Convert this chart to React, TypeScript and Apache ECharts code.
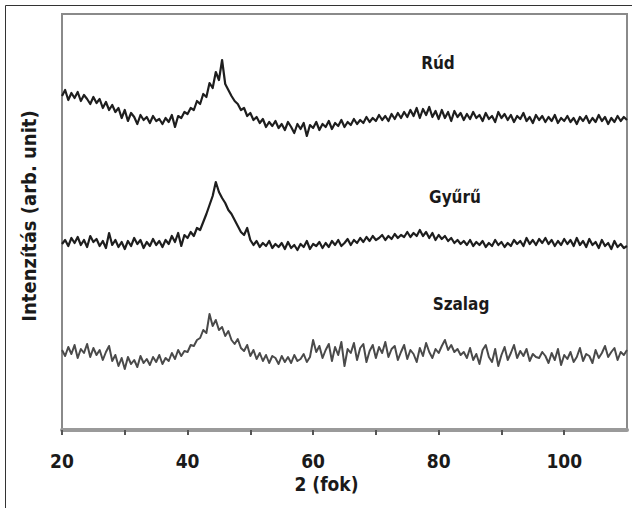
import React, { useEffect, useRef } from "react";
import * as echarts from "echarts";

// 2θ sampling of the diffractograms (degrees)
const THETA_START = 20;
const THETA_STEP = 0.5;
const X_TICKS = [20, 40, 60, 80, 100];

// Intensities (arb. unit), one value per 0.5°
const rud = [
  334, 340, 330, 337, 332, 338, 329, 335, 331, 326, // 20-24.5
  333, 327, 331, 322, 328, 320, 325, 318, 322, 312, // 25-29.5
  320, 309, 317, 313, 306, 315, 310, 313, 307, 314, // 30-34.5
  309, 311, 306, 312, 308, 315, 303, 314, 312, 318, // 35-39.5
  316, 322, 320, 329, 326, 336, 333, 347, 342, 358, // 40-44.5
  350, 370, 346, 340, 334, 329, 326, 320, 322, 314, // 45-49.5
  317, 310, 313, 307, 311, 303, 308, 304, 309, 302, // 50-54.5
  306, 300, 308, 303, 297, 306, 301, 307, 294, 305, // 55-59.5
  302, 308, 300, 306, 303, 309, 301, 307, 304, 310, // 60-64.5
  303, 308, 305, 311, 306, 310, 307, 313, 308, 312, // 65-69.5
  309, 315, 310, 314, 309, 316, 311, 317, 312, 318, // 70-74.5
  313, 320, 314, 322, 312, 321, 315, 323, 313, 319, // 75-79.5
  311, 320, 312, 318, 309, 319, 313, 317, 310, 316, // 80-84.5
  311, 318, 312, 315, 309, 317, 311, 314, 308, 318, // 85-89.5
  312, 316, 310, 315, 308, 314, 311, 317, 309, 313, // 90-94.5
  307, 315, 310, 314, 308, 313, 309, 315, 307, 312, // 95-99.5
  309, 314, 308, 312, 306, 313, 309, 314, 307, 312, // 100-104.5
  308, 315, 309, 313, 306, 312, 308, 314, 309, 313, // 105-109.5
  310, // 110
];

const gyuru = [
  186, 190, 184, 192, 187, 193, 185, 190, 183, 194, // 20-24.5
  188, 191, 184, 189, 182, 197, 185, 190, 183, 188, // 25-29.5
  181, 189, 184, 192, 186, 190, 182, 188, 184, 191, // 30-34.5
  185, 189, 183, 190, 186, 194, 188, 197, 184, 195, // 35-39.5
  192, 198, 194, 202, 200, 208, 216, 225, 234, 248, // 40-44.5
  238, 232, 227, 220, 216, 210, 204, 198, 195, 202, // 45-49.5
  190, 185, 189, 183, 187, 184, 189, 182, 186, 183, // 50-54.5
  187, 181, 188, 182, 185, 180, 186, 183, 189, 181, // 55-59.5
  186, 184, 188, 182, 187, 183, 189, 185, 190, 184, // 60-64.5
  187, 191, 185, 190, 187, 192, 188, 193, 189, 194, // 65-69.5
  190, 192, 195, 190, 194, 191, 196, 192, 195, 193, // 70-74.5
  198, 193, 197, 194, 200, 194, 198, 192, 197, 190, // 75-79.5
  195, 191, 194, 189, 192, 187, 190, 186, 189, 185, // 80-84.5
  190, 184, 188, 185, 189, 183, 187, 184, 190, 185, // 85-89.5
  188, 183, 187, 184, 190, 186, 189, 184, 192, 186, // 90-94.5
  190, 185, 191, 187, 192, 186, 190, 184, 189, 185, // 95-99.5
  191, 186, 190, 184, 192, 185, 189, 183, 191, 185, // 100-104.5
  188, 182, 190, 184, 187, 181, 189, 183, 186, 182, // 105-109.5
  184, // 110
];

const szalag = [
  80, 74, 83, 76, 85, 72, 81, 77, 86, 73, // 20-24.5
  82, 75, 80, 70, 78, 84, 69, 75, 64, 72, // 25-29.5
  61, 73, 66, 70, 63, 74, 67, 71, 65, 73, // 30-34.5
  68, 75, 66, 72, 69, 77, 71, 80, 74, 79, // 35-39.5
  78, 85, 84, 90, 92, 100, 97, 116, 104, 110, // 40-44.5
  100, 103, 94, 99, 90, 86, 91, 82, 79, 85, // 45-49.5
  74, 80, 71, 77, 69, 75, 67, 74, 72, 66, // 50-54.5
  74, 68, 73, 67, 75, 69, 71, 76, 68, 73, // 55-59.5
  90, 78, 84, 72, 80, 86, 69, 83, 75, 88, // 60-64.5
  64, 81, 77, 87, 70, 82, 86, 68, 79, 85, // 65-69.5
  72, 83, 77, 88, 73, 81, 84, 70, 78, 85, // 70-74.5
  71, 80, 76, 68, 82, 74, 87, 78, 72, 81, // 75-79.5
  77, 84, 90, 80, 85, 78, 81, 75, 78, 72, // 80-84.5
  82, 70, 76, 66, 80, 85, 73, 68, 81, 64, // 85-89.5
  75, 83, 70, 77, 85, 72, 79, 74, 81, 69, // 90-94.5
  76, 73, 72, 78, 74, 67, 77, 70, 81, 65, // 95-99.5
  75, 71, 78, 68, 73, 82, 69, 76, 74, 67, // 100-104.5
  80, 72, 77, 84, 73, 78, 82, 70, 78, 75, // 105-109.5
  80, // 110
];

const SERIES_NAMES = ["Rúd", "Gyűrű", "Szalag"];

const FONT = "'DejaVu Sans Condensed', 'DejaVu Sans', sans-serif";

function toPairs(values: number[]): [number, number][] {
  return values.map((v, i) => [THETA_START + i * THETA_STEP, v]);
}

export default function App() {
  const ref = useRef<HTMLDivElement>(null);

  useEffect(() => {
    if (!ref.current) return;
    const chart = echarts.init(ref.current, undefined, { renderer: "svg" });

    const lineSeries = (name: string, values: number[], color: string, width: number) => ({
      name,
      type: "line",
      data: toPairs(values),
      showSymbol: false,
      symbol: "none",
      lineStyle: { color, width, join: "round" },
      z: 3,
    });

    const labelText = (text: string, x: number, y: number) => ({
      type: "text",
      x,
      y,
      style: {
        text,
        font: `bold 17px ${FONT}`,
        fill: "#1a1a1a",
        align: "center",
        verticalAlign: "middle",
      },
    });

    chart.setOption({
      animation: false,
      backgroundColor: "#ffffff",
      textStyle: { fontFamily: FONT },
      grid: {
        left: 62,
        right: 5,
        top: 14,
        bottom: 78,
        show: true,
        borderColor: "#8a8a8a",
        borderWidth: 2,
        backgroundColor: "#ffffff",
      },
      xAxis: {
        type: "value",
        min: 20,
        max: 110,
        interval: 10,
        name: "2 (fok)",
        nameLocation: "middle",
        nameGap: 42,
        nameTextStyle: {
          fontFamily: FONT,
          fontSize: 19,
          fontWeight: "bold",
          color: "#1a1a1a",
          padding: [0, 36, 0, 0],
        },
        axisLine: { show: true, lineStyle: { color: "#9a9a9a", width: 4 } },
        axisTick: { show: true, length: 5, lineStyle: { color: "#555555", width: 2 } },
        axisLabel: {
          fontFamily: FONT,
          fontSize: 19,
          fontWeight: "bold",
          color: "#1a1a1a",
          margin: 21,
          showMaxLabel: false,
          formatter: (v: number) => (X_TICKS.includes(v) ? String(v) : ""),
        },
        splitLine: { show: false },
      },
      yAxis: {
        type: "value",
        min: 0,
        max: 416,
        name: "Intenzítás (arb. unit)",
        nameLocation: "middle",
        nameGap: 23,
        nameRotate: 90,
        nameTextStyle: {
          fontFamily: FONT,
          fontSize: 20,
          fontWeight: "bold",
          color: "#1a1a1a",
          padding: [0, 0, 0, 12],
        },
        axisLine: { show: false },
        axisTick: { show: false },
        axisLabel: { show: false },
        splitLine: { show: false },
      },
      series: [
        lineSeries(SERIES_NAMES[0], rud, "#1e1e1e", 2.2),
        lineSeries(SERIES_NAMES[1], gyuru, "#1e1e1e", 2.2),
        lineSeries(SERIES_NAMES[2], szalag, "#4a4a4a", 2),
      ],
      graphic: [
        {
          type: "rect",
          shape: { x: 5.5, y: 5.5, width: 700, height: 700 },
          style: { fill: "none", stroke: "#333333", lineWidth: 1 },
          silent: true,
        },
        labelText(SERIES_NAMES[0], 438, 63),
        labelText(SERIES_NAMES[1], 455, 197),
        labelText(SERIES_NAMES[2], 461, 304),
      ],
    });

    return () => chart.dispose();
  }, []);

  return (
    <div
      ref={ref}
      style={{ position: "fixed", left: 0, top: 0, width: 632, height: 508, background: "#fff" }}
    />
  );
}
